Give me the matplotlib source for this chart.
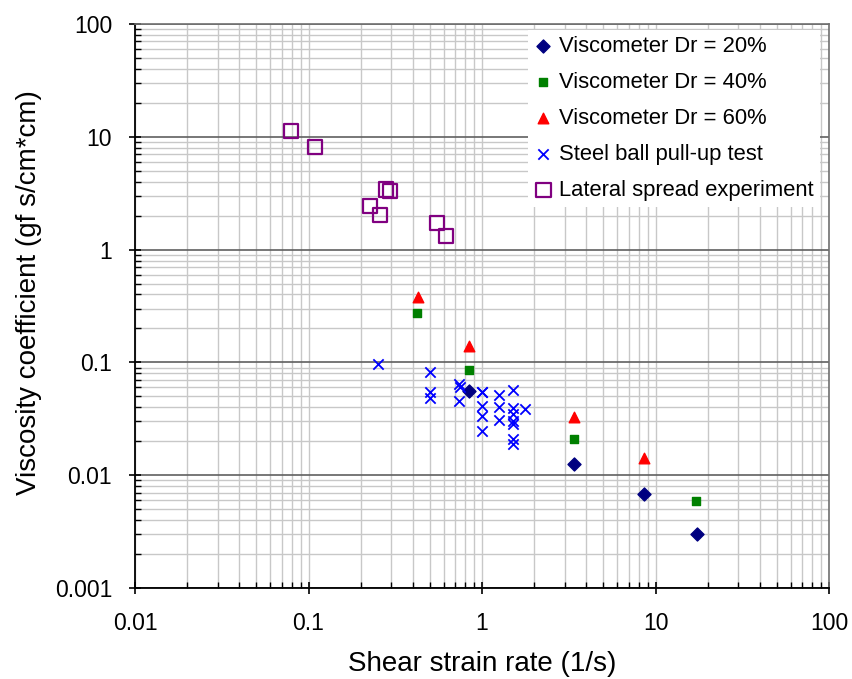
import matplotlib
matplotlib.use('Agg')
import matplotlib.pyplot as plt
from matplotlib.ticker import LogLocator, FixedFormatter, FixedLocator, NullFormatter

plt.rcParams['font.family'] = ['Liberation Sans', 'DejaVu Sans']

# viscometer tests
dr20_x = [0.84, 3.4, 8.6, 17.3]
dr20_y = [0.056, 0.0126, 0.0068, 0.0030]
dr40_x = [0.42, 0.84, 3.4, 17.0]
dr40_y = [0.272, 0.086, 0.021, 0.0059]
dr60_x = [0.43, 0.84, 3.4, 8.6]
dr60_y = [0.38, 0.140, 0.033, 0.0143]

# steel ball pull-up test
ball_x = [0.25, 0.5, 0.5, 0.5, 0.74, 0.745, 0.74,
          1.0, 1.0, 1.0, 1.0, 1.0,
          1.26, 1.26, 1.26,
          1.5, 1.5, 1.5, 1.5, 1.5, 1.5, 1.5, 1.76]
ball_y = [0.096, 0.082, 0.055, 0.0486, 0.064, 0.060, 0.0455,
          0.055, 0.041, 0.0334, 0.0249, 0.055,
          0.0514, 0.0404, 0.0308,
          0.057, 0.0396, 0.035, 0.0305, 0.0286, 0.0208, 0.0188, 0.0388]

# lateral spread experiment
lat_x = [0.079, 0.109, 0.279, 0.296, 0.227, 0.257, 0.548, 0.618]
lat_y = [11.3, 8.07, 3.41, 3.33, 2.43, 2.02, 1.73, 1.31]

fig = plt.figure(figsize=(8.53, 6.79), dpi=100)
ax = fig.add_axes([0.1583, 0.134, 0.8136, 0.8307])

ax.set_xscale('log')
ax.set_yscale('log')
ax.set_xlim(0.01, 100)
ax.set_ylim(0.001, 100)

ax.scatter(dr20_x, dr20_y, marker='D', s=44, color='#000080', zorder=4,
           label='Viscometer Dr = 20%')
ax.scatter(dr40_x, dr40_y, marker='s', s=36, color='#008000', zorder=4,
           label='Viscometer Dr = 40%')
ax.scatter(dr60_x, dr60_y, marker='^', s=58, color='#ff0000', zorder=4,
           label='Viscometer Dr = 60%')
ax.scatter(ball_x, ball_y, marker='x', s=55, color='#0000ff', linewidths=1.3,
           zorder=4, label='Steel ball pull-up test')
ax.scatter(lat_x, lat_y, marker='s', s=105, facecolors='none', edgecolors='#800080',
           linewidths=1.6, zorder=4, label='Lateral spread experiment')

# grid like the spreadsheet original
ax.grid(True, which='minor', axis='both', color='#c8c8c8', linewidth=1.0)
ax.grid(True, which='major', axis='x', color='#c8c8c8', linewidth=1.0)
ax.grid(True, which='major', axis='y', color='#606060', linewidth=1.2)
ax.set_axisbelow(True)

xt = [0.01, 0.1, 1, 10, 100]
yt = [0.001, 0.01, 0.1, 1, 10, 100]
ax.xaxis.set_major_locator(FixedLocator(xt))
ax.xaxis.set_major_formatter(FixedFormatter(['0.01', '0.1', '1', '10', '100']))
ax.yaxis.set_major_locator(FixedLocator(yt))
ax.yaxis.set_major_formatter(FixedFormatter(['0.001', '0.01', '0.1', '1', '10', '100']))
ax.xaxis.set_minor_locator(LogLocator(base=10, subs=range(2, 10), numticks=20))
ax.yaxis.set_minor_locator(LogLocator(base=10, subs=range(2, 10), numticks=20))
ax.xaxis.set_minor_formatter(NullFormatter())
ax.yaxis.set_minor_formatter(NullFormatter())

ax.tick_params(which='major', direction='inout', length=9, width=1.2,
               labelsize=16.5)
ax.tick_params(axis='y', which='major', pad=12)
ax.tick_params(axis='x', which='major', pad=13)
ax.tick_params(which='minor', direction='in', length=4, width=1.0)

for side in ['left', 'bottom']:
    ax.spines[side].set_color('black')
    ax.spines[side].set_linewidth(1.3)
for side in ['top', 'right']:
    ax.spines[side].set_color('#707070')
    ax.spines[side].set_linewidth(1.2)

ax.set_xlabel('Shear strain rate (1/s)', fontsize=20, labelpad=11)
ax.set_ylabel('Viscosity coefficient (gf s/cm*cm)', fontsize=20)
ax.yaxis.set_label_coords(-0.134, 0.523)

leg = ax.legend(loc='upper right', bbox_to_anchor=(0.987, 0.99), borderaxespad=0,
                fontsize=15.8, frameon=True, fancybox=False,
                edgecolor='white', framealpha=1.0,
                handletextpad=0.3, labelspacing=0.68, handlelength=0.8,
                borderpad=0.3, markerscale=1.0)
leg.get_frame().set_linewidth(0)

fig.savefig('out.png', dpi=100)
